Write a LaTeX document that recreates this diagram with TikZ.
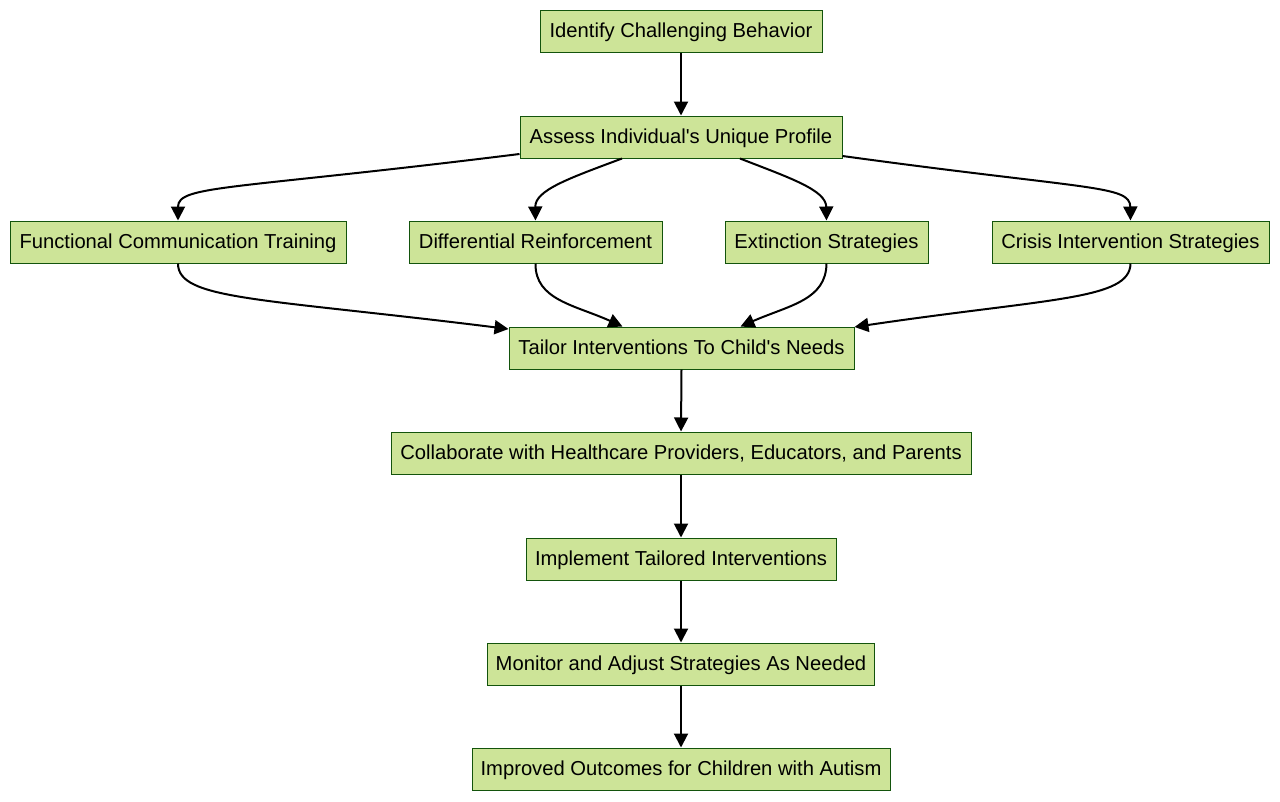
\documentclass[tikz,border=0pt]{standalone}
\usepackage{fontspec}
\setmainfont{Liberation Sans}
\usetikzlibrary{arrows.meta}
\definecolor{boxfill}{HTML}{CDE498}
\definecolor{boxline}{HTML}{13540C}
\tikzset{
  box/.style={draw=boxline, fill=boxfill, line width=1pt, minimum height=42pt, inner sep=0pt, text height=16pt, text depth=4pt, anchor=center, font=\fontsize{20.2pt}{24pt}\selectfont, text=black},
  conn/.style={draw=black, line width=2pt, -{Triangle[length=14pt,width=14pt]}},
}
\begin{document}
\begin{tikzpicture}[x=1pt,y=-1pt]
\useasboundingbox (0,0) rectangle (1280,801);
\node[box, minimum width=282pt] (identify) at (681,31) {Identify Challenging Behavior};
\node[box, minimum width=322pt] (assess) at (681,137) {Assess Individual\textquotesingle s Unique Profile};
\node[box, minimum width=336pt] (fct) at (178,242) {Functional Communication Training};
\node[box, minimum width=253pt] (dr) at (535.5,242) {Differential Reinforcement};
\node[box, minimum width=203pt] (ext) at (826.5,242) {Extinction Strategies};
\node[box, minimum width=277pt] (crisis) at (1130.5,242) {Crisis Intervention Strategies};
\node[box, minimum width=345pt] (tailor) at (681.5,348) {Tailor Interventions To Child\textquotesingle s Needs};
\node[box, minimum width=580pt] (collab) at (681,453) {Collaborate with Healthcare Providers, Educators, and Parents};
\node[box, minimum width=310pt] (impl) at (681,559) {Implement Tailored Interventions};
\node[box, minimum width=387pt] (monitor) at (681,664) {Monitor and Adjust Strategies As Needed};
\node[box, minimum width=418pt] (improved) at (681,769) {Improved Outcomes for Children with Autism};

\draw[conn] (identify.south) -- (assess.north);

\draw[conn] ([yshift=-17pt]assess.west) .. controls (230,190) and (178,185) .. (fct.north);
\draw[conn] ([xshift=-59pt]assess.south) .. controls (570,178) and (535,190) .. (dr.north);
\draw[conn] ([xshift=59pt]assess.south) .. controls (790,178) and (826,190) .. (ext.north);
\draw[conn] ([yshift=-19pt]assess.east) .. controls (1090,190) and (1130,185) .. (crisis.north);

\draw[conn] (fct.south) .. controls (178,300) and (260,298) .. ([yshift=19pt]tailor.west);
\draw[conn] (dr.south) .. controls (535,300) and (575,305) .. ([xshift=-59pt]tailor.north);
\draw[conn] (ext.south) .. controls (826,300) and (790,305) .. ([xshift=59pt]tailor.north);
\draw[conn] (crisis.south) .. controls (1130,300) and (1050,298) .. ([yshift=21pt]tailor.east);

\draw[conn] (tailor.south) -- (collab.north);
\draw[conn] (collab.south) -- (impl.north);
\draw[conn] (impl.south) -- (monitor.north);
\draw[conn] (monitor.south) -- (improved.north);
\end{tikzpicture}
\end{document}
